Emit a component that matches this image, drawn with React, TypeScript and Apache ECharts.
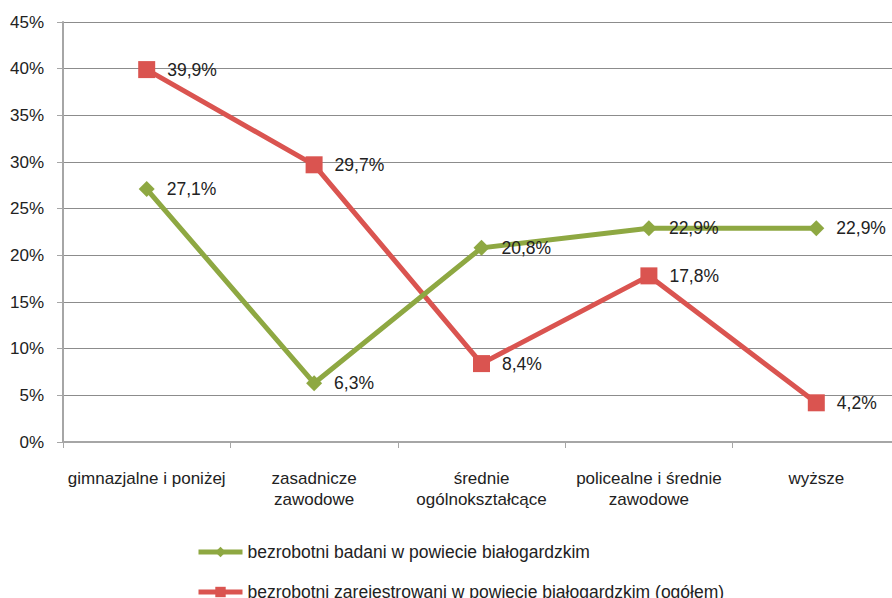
import React, { useEffect, useRef } from "react";
import * as echarts from "echarts";

const categories = [
  "gimnazjalne i poniżej",
  "zasadnicze\nzawodowe",
  "średnie\nogólnokształcące",
  "policealne i średnie\nzawodowe",
  "wyższe",
];
const surveyed = [27.1, 6.3, 20.8, 22.9, 22.9];
const registered = [39.9, 29.7, 8.4, 17.8, 4.2];
const seriesNames = [
  "bezrobotni badani w powiecie białogardzkim",
  "bezrobotni zarejestrowani w powiecie białogardzkim (ogółem)",
];

const FONT = '"Liberation Sans", Arial, sans-serif';
const GREEN = "#8EA842";
const RED = "#DA5450";

const fmt = (p: any) => String(p.value).replace(".", ",") + "%";

export default function App() {
  const ref = useRef<HTMLDivElement>(null);
  useEffect(() => {
    if (!ref.current) return;
    const chart = echarts.init(ref.current, null, { renderer: "svg" });
    const label = {
      show: true,
      position: "right" as const,
      distance: 12,
      formatter: fmt,
      color: "#222",
      fontSize: 17.5,
      fontFamily: FONT,
    };
    const legendBase = {
      orient: "horizontal",
      left: 196,
      padding: 0,
      itemWidth: 44,
      itemHeight: 13,
      lineStyle: { width: 5 },
      textStyle: { color: "#222", fontSize: 17.5, fontFamily: FONT },
    };
    chart.setOption({
      animation: false,
      backgroundColor: "#fff",
      textStyle: { fontFamily: FONT },
      grid: {
        left: 63,
        right: -8,
        top: 22,
        bottom: 156,
        containLabel: false,
        outerBoundsMode: "none",
      },
      legend: [
        { ...legendBase, top: 543, data: [seriesNames[0]] },
        { ...legendBase, top: 583, data: [seriesNames[1]] },
      ],
      xAxis: {
        type: "category",
        data: categories,
        boundaryGap: true,
        axisLine: { lineStyle: { color: "#a6a6a6", width: 2 } },
        axisTick: { show: true, length: 6, lineStyle: { color: "#a6a6a6" } },
        axisLabel: {
          color: "#222",
          fontSize: 17,
          fontFamily: FONT,
          margin: 26,
          lineHeight: 21,
          interval: 0,
        },
      },
      yAxis: {
        type: "value",
        min: 0,
        max: 45,
        interval: 5,
        axisLine: { show: true, lineStyle: { color: "#a6a6a6", width: 2 } },
        axisTick: { show: true, length: 6, lineStyle: { color: "#a6a6a6" } },
        splitLine: { lineStyle: { color: "#8c8c8c", width: 1 } },
        axisLabel: {
          color: "#222",
          fontSize: 17,
          fontFamily: FONT,
          margin: 19,
          formatter: "{value}%",
        },
      },
      series: [
        {
          name: seriesNames[0],
          type: "line",
          data: surveyed,
          symbol: "diamond",
          symbolSize: 16,
          lineStyle: { color: GREEN, width: 5 },
          itemStyle: { color: GREEN },
          label,
          z: 3,
        },
        {
          name: seriesNames[1],
          type: "line",
          data: registered,
          symbol: "rect",
          symbolSize: 17,
          lineStyle: { color: RED, width: 5 },
          itemStyle: { color: RED },
          label,
          z: 2,
        },
      ],
    });
    return () => chart.dispose();
  }, []);
  return (
    <div
      ref={ref}
      style={{ position: "absolute", left: 0, top: 0, width: 892, height: 598 }}
    />
  );
}
